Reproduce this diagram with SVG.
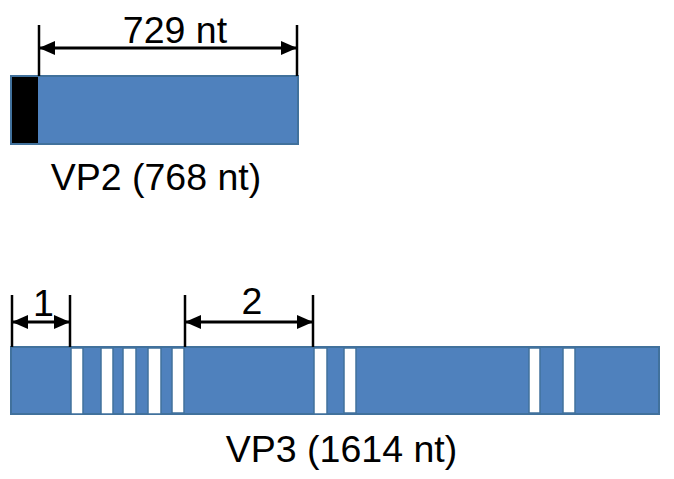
<svg xmlns="http://www.w3.org/2000/svg" width="674" height="479" viewBox="0 0 674 479">
<defs>
<style>
.bar{fill:#4F81BD;stroke:#41719C;stroke-width:2}
.gap{fill:#FFFFFF;stroke:#41719C;stroke-width:1.5}
.tick{stroke:#000;stroke-width:2.5;fill:none}
.dim{stroke:#000;stroke-width:3;fill:none;marker-start:url(#ah);marker-end:url(#ah)}
.lbl{font-family:"Liberation Sans",Arial,sans-serif;font-size:37.5px;fill:#000;text-anchor:middle}
</style>
<marker id="ah" markerUnits="userSpaceOnUse" markerWidth="16" markerHeight="14" refX="15" refY="7" orient="auto-start-reverse">
<path d="M0,0 L16,7 L0,14 z" fill="#000"/>
</marker>
</defs>
<rect width="674" height="479" fill="#FFFFFF"/>
<g id="vp2">
<rect class="bar" x="11" y="76" width="287" height="68"/>
<rect x="12" y="77" width="26" height="66" fill="#000"/>
<text class="lbl" x="156" y="190">VP2 (768 nt)</text>
</g>
<g id="vp3">
<rect class="bar" x="11" y="347" width="648" height="67"/>
<rect class="gap" x="71" y="348" width="12" height="66"/>
<rect class="gap" x="101" y="348" width="12" height="66"/>
<rect class="gap" x="123" y="348" width="13" height="66"/>
<rect class="gap" x="148" y="348" width="13" height="66"/>
<rect class="gap" x="172" y="348" width="12" height="65"/>
<rect class="gap" x="314" y="348" width="13" height="66"/>
<rect class="gap" x="344" y="348" width="12" height="65"/>
<rect class="gap" x="529" y="348" width="11" height="65"/>
<rect class="gap" x="563" y="348" width="12" height="65"/>
<text class="lbl" x="341.5" y="462">VP3 (1614 nt)</text>
</g>
<g id="connectors">
<line class="tick" x1="39" y1="25" x2="39" y2="76"/>
<line class="tick" x1="297" y1="25" x2="297" y2="76"/>
<line class="dim" x1="40" y1="48" x2="296" y2="48"/>
<line class="tick" x1="12" y1="295" x2="12" y2="347"/>
<line class="tick" x1="70" y1="295" x2="70" y2="347"/>
<line class="dim" x1="13" y1="322" x2="69" y2="322"/>
<line class="tick" x1="185" y1="295" x2="185" y2="347"/>
<line class="tick" x1="313" y1="295" x2="313" y2="347"/>
<line class="dim" x1="186" y1="322" x2="312" y2="322"/>
</g>
<g id="labels">
<text class="lbl" x="175" y="43">729 nt</text>
<text class="lbl" x="43.5" y="316">1</text>
<text class="lbl" x="252" y="314">2</text>
</g>
</svg>
